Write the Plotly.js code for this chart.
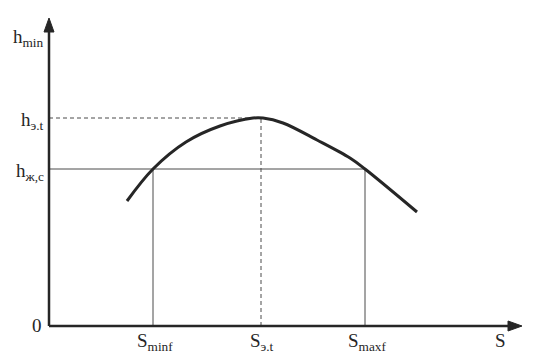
<!DOCTYPE html>
<html>
<head>
<meta charset="utf-8">
<script src="https://cdn.plot.ly/plotly-3.0.1.min.js"></script>
<style>html,body{margin:0;padding:0;background:#fff;}#chart{width:537px;height:356px;}</style>
</head>
<body>
<div id="chart"></div>
<script>
// Curve h_min(S) (arbitrary units, origin at axes crossing)
const curveS = [78, 104, 137, 171, 204, 214, 234, 268, 301, 316, 368];
const curveH = [125, 157, 184, 200, 208, 208, 203, 186, 168, 157, 114];

// Key positions
const sMinf = 104, sEt = 212, sMaxf = 316, sLabel = 451;
const hEt = 208, hJc = 157, hMinLabel = 291;
const xMax = 473, yMax = 308;

const xLabelPos = [sMinf + 2, sEt + 1, sMaxf + 2, sLabel];
const xLabelText = ['S<sub>minf</sub>', 'S<sub>э.t</sub>', 'S<sub>maxf</sub>', 'S'];
const yLabelPos = [hMinLabel, hEt, hJc];
const yLabelText = ['h<sub>min</sub>', 'h<sub>э.t</sub>', 'h<sub>ж,c</sub>'];

const ink = '#262626';
const thin = '#4a4a4a';

const traces = [
  // solid reference lines for h_ж,c
  {x: [0, sMaxf], y: [hJc, hJc], mode: 'lines', line: {color: thin, width: 1}, hoverinfo: 'skip'},
  {x: [sMinf, sMinf], y: [0, hJc], mode: 'lines', line: {color: thin, width: 1}, hoverinfo: 'skip'},
  {x: [sMaxf, sMaxf], y: [0, hJc], mode: 'lines', line: {color: thin, width: 1}, hoverinfo: 'skip'},
  // dashed reference lines for the optimum
  {x: [0, sEt], y: [hEt, hEt], mode: 'lines', line: {color: thin, width: 1, dash: '4px,3px'}, hoverinfo: 'skip'},
  {x: [sEt, sEt], y: [0, hEt], mode: 'lines', line: {color: thin, width: 1, dash: '4px,3px'}, hoverinfo: 'skip'},
  // main curve
  {x: curveS, y: curveH, mode: 'lines', line: {color: ink, width: 3, shape: 'spline', smoothing: 1}, hoverinfo: 'skip'}
];

// axes with arrowheads (1 data unit = 1 px on both axes)
const headLen = 14, headHalf = 5;
const shapes = [
  {type: 'line', xref: 'x', yref: 'y', x0: 0, y0: 0, x1: xMax - headLen + 2, y1: 0, line: {color: ink, width: 2.5}},
  {type: 'line', xref: 'x', yref: 'y', x0: 0, y0: 0, x1: 0, y1: yMax - headLen + 2, line: {color: ink, width: 2.5}},
  {type: 'path', xref: 'x', yref: 'y',
   path: `M ${xMax - headLen} ${-headHalf} L ${xMax} 0 L ${xMax - headLen} ${headHalf} Z`,
   fillcolor: ink, line: {color: ink, width: 1}},
  {type: 'path', xref: 'x', yref: 'y',
   path: `M ${-headHalf} ${yMax - headLen} L 0 ${yMax} L ${headHalf} ${yMax - headLen} Z`,
   fillcolor: ink, line: {color: ink, width: 1}}
];

const annotations = [];
const font = {family: 'Liberation Serif, Times New Roman, serif', size: 19, color: ink};
xLabelText.forEach((t, i) => annotations.push({
  x: xLabelPos[i], y: 0, xref: 'x', yref: 'y', text: t, showarrow: false,
  xanchor: 'center', yanchor: 'top', yshift: -2, font: font
}));
yLabelText.forEach((t, i) => annotations.push({
  x: 0, y: yLabelPos[i], xref: 'x', yref: 'y', text: t, showarrow: false,
  xanchor: 'right', yanchor: 'middle', xshift: -3, yshift: -3, font: font
}));
annotations.push({x: 0, y: 0, xref: 'x', yref: 'y', text: '0', showarrow: false,
  xanchor: 'right', yanchor: 'middle', xshift: -5, yshift: 1, font: font});

const layout = {
  width: 537, height: 356,
  margin: {l: 39, r: 15, t: 16, b: 20},
  paper_bgcolor: '#fff', plot_bgcolor: '#fff',
  showlegend: false,
  xaxis: {range: [-10, 473], showgrid: false, zeroline: false, showline: false, showticklabels: false, ticks: '', fixedrange: true},
  yaxis: {range: [-10, 310], showgrid: false, zeroline: false, showline: false, showticklabels: false, ticks: '', fixedrange: true},
  shapes: shapes,
  annotations: annotations
};

Plotly.newPlot('chart', traces, layout, {staticPlot: true, displayModeBar: false});
</script>
</body>
</html>
